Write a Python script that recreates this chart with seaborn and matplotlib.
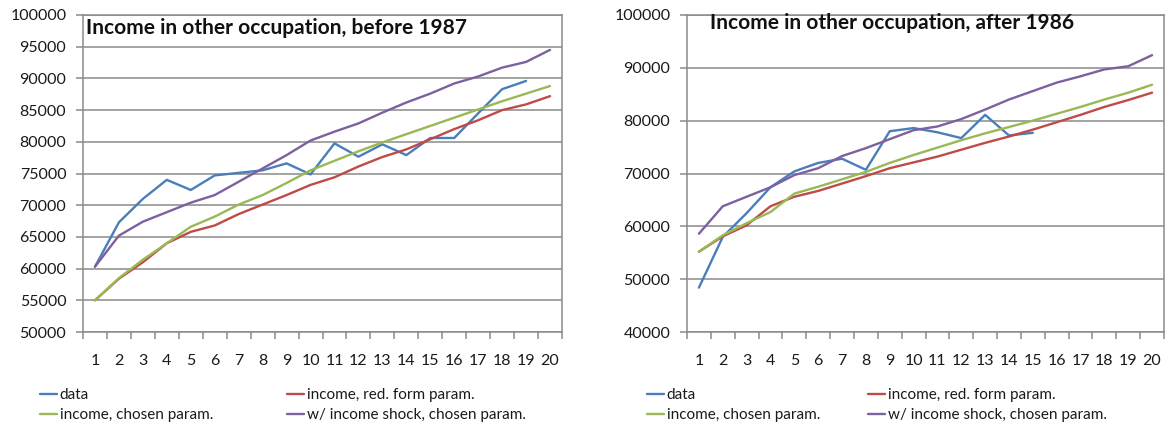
import numpy as np
import pandas as pd
import matplotlib
matplotlib.use("Agg")
import matplotlib.pyplot as plt
import seaborn as sns
from matplotlib.lines import Line2D
from matplotlib.ticker import FixedLocator

# ---------------- data ----------------
periods = list(range(1, 21))
series_names = ["data", "income, red. form param.", "income, chosen param.",
                "w/ income shock, chosen param."]
colors = ["#4A7EBB", "#BE4B48", "#98B954", "#7D60A0"]

# before 1987
before_data = [60300, 67300, 71000, 74000, 72400, 74700, 75100, 75500, 76600, 74850,
               79750, 77650, 79600, 77900, 80600, 80600, 84500, 88300, 89600]
before_red = [55000, 58400, 61000, 64000, 65800, 66800, 68600, 70100, 71600, 73200,
              74400, 76100, 77600, 78800, 80400, 82000, 83400, 85000, 85900, 87200]
before_green = [55000, 58500, 61400, 64000, 66600, 68200, 70100, 71600, 73500, 75500,
                77000, 78500, 79900, 81200, 82500, 83800, 85100, 86400, 87600, 88800]
before_purple = [60300, 65200, 67400, 68900, 70400, 71600, 73700, 75800, 77900, 80200,
                 81600, 82900, 84600, 86200, 87600, 89200, 90300, 91700, 92600, 94500]

# after 1986
after_data = [48400, 58000, 62500, 67400, 70400, 72000, 72800, 70700, 78000, 78600,
              77800, 76700, 81100, 77200, 77700]
after_red = [55200, 58100, 60200, 63800, 65600, 66700, 68100, 69500, 71000, 72100,
             73200, 74500, 75800, 77000, 78300, 79700, 81100, 82600, 83900, 85300]
after_green = [55200, 58300, 60600, 62700, 66200, 67500, 68900, 70300, 72000, 73500,
               74900, 76300, 77600, 78800, 80000, 81300, 82600, 84000, 85300, 86800]
after_purple = [58600, 63800, 65600, 67400, 69700, 71000, 73300, 74800, 76500, 78200,
                78900, 80300, 82100, 84000, 85600, 87200, 88400, 89700, 90300, 92400]

titles = ["Income in other occupation, before 1987",
          "Income in other occupation, after 1986"]


def long_df(series_values):
    rows = []
    for name, vals in zip(series_names, series_values):
        for p, v in zip(periods, vals):
            rows.append((p, v, name))
    return pd.DataFrame(rows, columns=["period", "income", "series"])


df_before = long_df([before_data, before_red, before_green, before_purple])
df_after = long_df([after_data, after_red, after_green, after_purple])

# ---------------- style ----------------
sns.set_theme(style="white")
plt.rcParams["font.family"] = ["Lato", "DejaVu Sans"]

W, H = 1168, 432
fig = plt.figure(figsize=(W / 100, H / 100), dpi=100)


def px_axes(x0, x1, y0, y1):
    return fig.add_axes([x0 / W, 1 - y1 / H, (x1 - x0) / W, (y1 - y0) / H])


ax1 = px_axes(83, 562, 15, 332)
ax2 = px_axes(687, 1164, 15, 332)

grid_c = "#8a8a8a"
text_c = "#1a1a1a"

for ax, df, ylim, ystep in [(ax1, df_before, (50000, 100000), 5000),
                            (ax2, df_after, (40000, 100000), 10000)]:
    sns.lineplot(data=df, x="period", y="income", hue="series",
                 hue_order=series_names, palette=colors, linewidth=1.7,
                 estimator=None, sort=False, legend=False, ax=ax)
    ax.set_xlim(0.5, 20.5)
    ax.set_ylim(*ylim)
    ax.set_xticks(periods)
    ax.set_xticklabels([str(p) for p in periods])
    ax.xaxis.set_minor_locator(FixedLocator(np.arange(0.5, 21, 1)))
    ax.set_yticks(np.arange(ylim[0], ylim[1] + 1, ystep))
    ax.set_yticklabels([str(int(v)) for v in np.arange(ylim[0], ylim[1] + 1, ystep)])
    ax.yaxis.grid(True, color=grid_c, linewidth=1.1)
    ax.xaxis.grid(False)
    ax.set_axisbelow(True)
    ax.set_xlabel("")
    ax.set_ylabel("")
    for s in ax.spines.values():
        s.set_color(grid_c)
        s.set_linewidth(1.1)
    ax.tick_params(axis="x", which="major", length=0, pad=16, labelsize=11.5,
                   labelcolor=text_c)
    ax.tick_params(axis="x", which="minor", length=5, width=1.1, color=grid_c,
                   direction="out", bottom=True)
    ax.tick_params(axis="y", which="major", length=5, width=1.1, color=grid_c,
                   direction="out", pad=7, labelsize=11.5, labelcolor=text_c, left=True)

fig.text(86 / W, 1 - 28 / H, titles[0], fontsize=15, fontweight="bold",
         color="#111111", ha="left", va="center")
fig.text(710 / W, 1 - 23 / H, titles[1], fontsize=15, fontweight="bold",
         color="#111111", ha="left", va="center")

handles = [Line2D([], [], color=c, linewidth=1.7) for c in colors]


def add_legend(idx, x_px, y_px):
    lg = fig.legend([handles[i] for i in idx], [series_names[i] for i in idx],
                    loc="upper left", bbox_to_anchor=(x_px / W, 1 - y_px / H),
                    frameon=False, fontsize=11, handlelength=1.1, handletextpad=0.2,
                    labelspacing=0.4, borderpad=0, borderaxespad=0)
    for t in lg.get_texts():
        t.set_color(text_c)
    return lg


add_legend([0, 2], 40, 388)
add_legend([1, 3], 287, 388)
add_legend([0, 2], 647, 388)
add_legend([1, 3], 868, 388)

fig.savefig("out.png", dpi=100)
